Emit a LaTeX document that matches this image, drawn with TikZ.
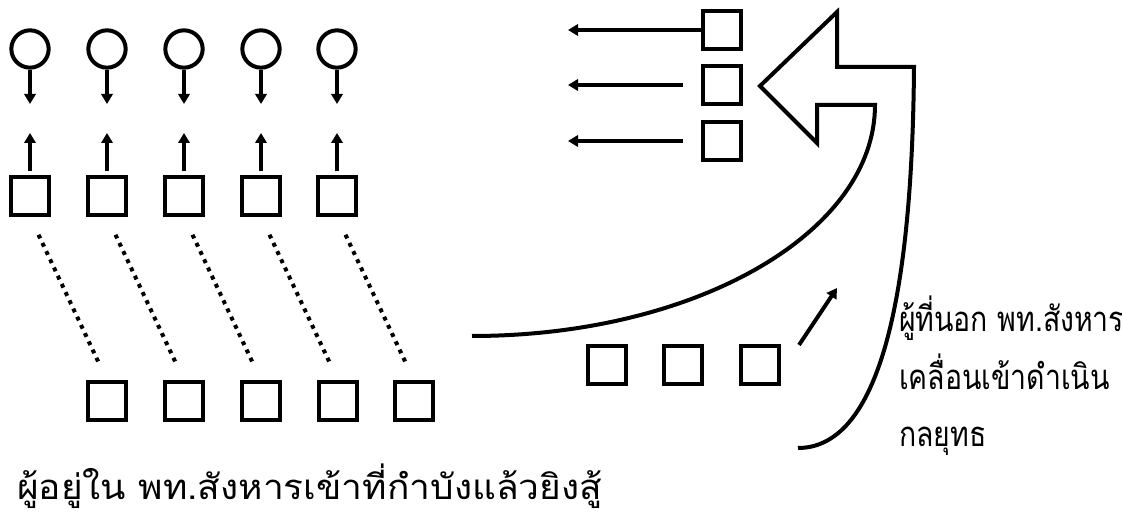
\documentclass[tikz,border=0pt]{standalone}
\usepackage{fontspec}
\usetikzlibrary{arrows.meta,positioning}
\newfontfamily\thaifont[Script=Thai]{Loma}
\begin{document}
\begin{tikzpicture}[x=0.75pt,y=-0.75pt,line width=3pt,
    box/.style={draw,minimum size=28pt,inner sep=0pt},
    blob/.style={draw,circle,minimum size=28pt,inner sep=0pt},
    arr/.style={-{Triangle[length=7.5pt,width=8.5pt]}},
    dots/.style={dash pattern=on 3pt off 3.8pt},
    lbl/.style={font=\thaifont\fontsize{26}{30}\selectfont,inner sep=0pt}]
  \useasboundingbox (0,0) rectangle (1122,516);
  \foreach \i/\x in {1/30,2/107,3/184,4/261,5/337}{
    \node[blob] (c\i) at (\x,49) {};
    \node[box] (t\i) at (\x,196) {};
    \node[box] (b\i) at ({\x+77},401) {};
    \coordinate (d\i) at (\x,104);
    \coordinate (u\i) at (\x,133);
    \draw[arr] (c\i) -- (d\i);
    \draw[arr,shorten <=3pt] (t\i) -- (u\i);
    \draw[dots,shorten <=15pt,shorten >=13pt] (t\i.south) -- (b\i.north);
  }
  \foreach \i/\y in {1/30,2/85,3/141}{
    \node[box] (r\i) at (722,\y) {};
    \coordinate (l\i) at (568,\y);
  }
  \draw[arr] (r1) -- (l1);
  \draw[arr,shorten <=14pt] (r2) -- (l2);
  \draw[arr,shorten <=14pt] (r3) -- (l3);
  \foreach \i/\x in {1/607,2/683,3/760}
    \node[box] (s\i) at (\x,365) {};
  \coordinate (q0) at (799,345);
  \coordinate (q1) at (837,288);
  \draw[arr] (q0) -- (q1);
  \draw[line join=miter] (472,336) .. controls (695,336) and (875,233) .. (875,105)
    -- (817,105) -- (817,143) -- (760,86) -- (837,12) -- (837,67) -- (914,67)
    .. controls (912,330) and (870,448) .. (798,448);
  \node[lbl,anchor=base west] (inside) at (15,500) {\scalebox{1.07}[1]{ผู้อยู่ใน พท.สังหารเข้าที่กำบังแล้วยิงสู้}};
  \node[lbl,anchor=base west] (out1) at (897,332) {\scalebox{0.82}[1]{ผู้ที่นอก พท.สังหาร}};
  \node[lbl,anchor=base west] (out2) at ([yshift=-43pt]out1.base west) {\scalebox{0.82}[1]{เคลื่อนเข้าดำเนิน}};
  \node[lbl,anchor=base west] (out3) at ([yshift=-43pt]out2.base west) {\scalebox{0.82}[1]{กลยุทธ}};
\end{tikzpicture}
\end{document}
